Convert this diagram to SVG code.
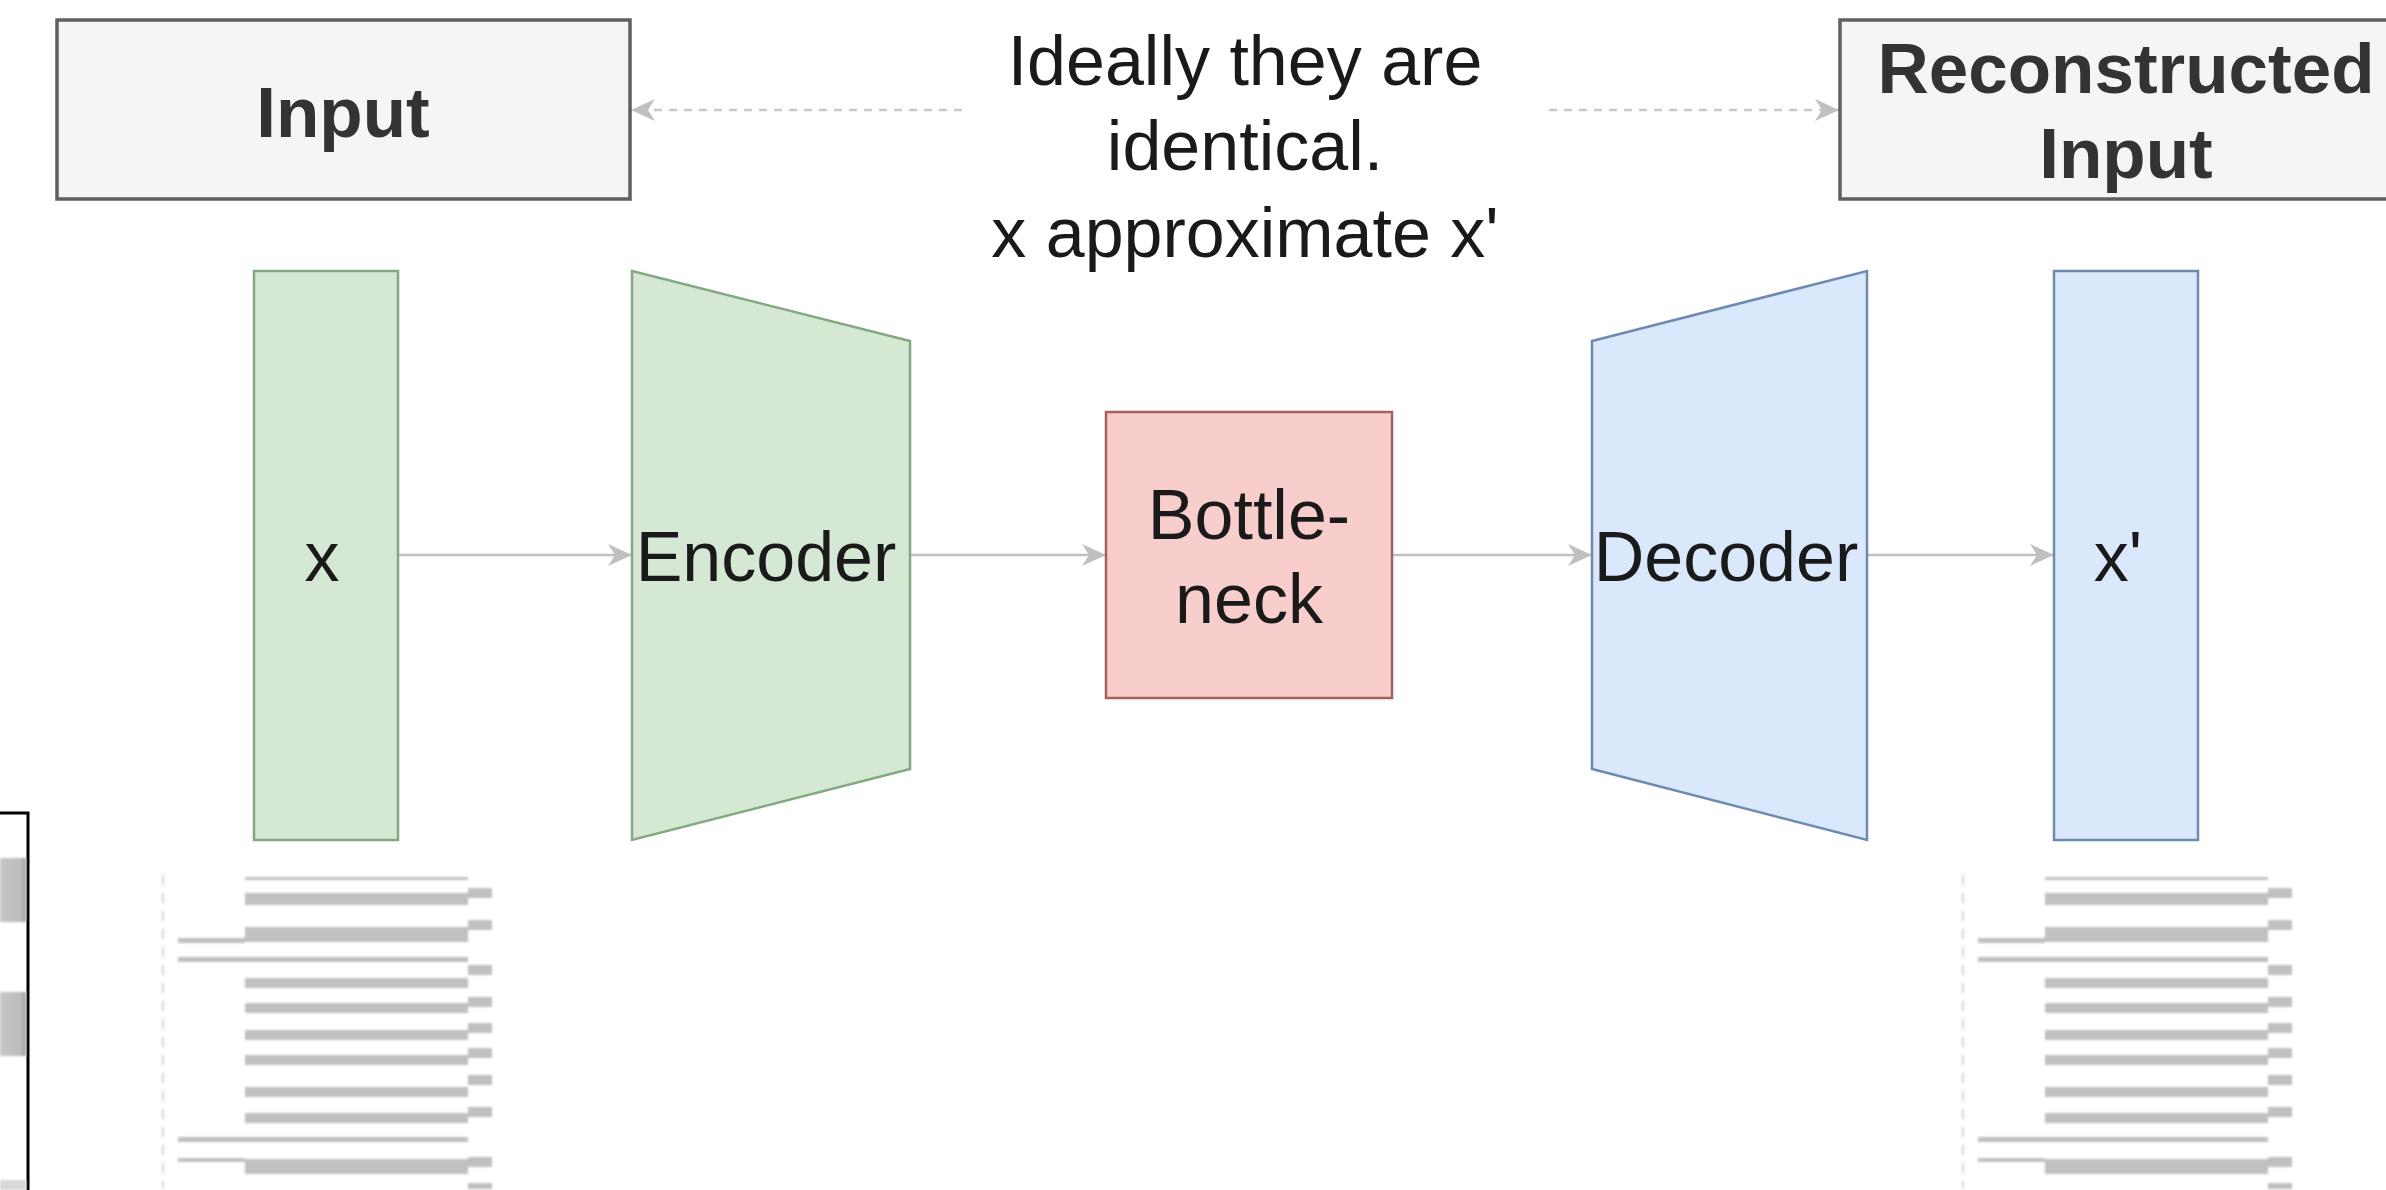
<svg xmlns="http://www.w3.org/2000/svg" width="2386" height="1190" viewBox="0 0 2386 1190">
<defs>
<style>
.lbl{font-family:"Liberation Sans",Arial,sans-serif;font-size:70px;fill:#1a1a1a;text-anchor:middle}
.bold{font-weight:bold;fill:#333333;font-size:71px}
.title{fill:#f5f5f5;stroke:#5f5f5f;stroke-width:3.5}
.green{fill:#d5e8d4;stroke:#84a982;stroke-width:2.5}
.blue{fill:#dae8fc;stroke:#7089b0;stroke-width:2.5}
.red{fill:#f8cecc;stroke:#a7605c;stroke-width:2.5}
.conn{stroke:#c0c0c0;stroke-width:2.5;fill:none;marker-end:url(#arr)}
.dash{stroke:#c8c8c8;stroke-width:2.5;fill:none;stroke-dasharray:8 7;marker-end:url(#arr)}
.bar{fill:#c0c0c0}
.vdash{stroke:#d4d4d4;stroke-width:2;stroke-dasharray:10 8}
</style>
<marker id="arr" markerUnits="userSpaceOnUse" markerWidth="24" markerHeight="22" viewBox="0 0 24 22" refX="24" refY="11" orient="auto">
<path d="M0,0 L24,11 L0,22 L7,11 Z" fill="#c0c0c0"/>
</marker>
<linearGradient id="blob" x1="0" y1="0" x2="1" y2="0">
<stop offset="0" stop-color="#c6c6c6"/>
<stop offset="0.8" stop-color="#bcbcbc"/>
<stop offset="1" stop-color="#9c9c9c"/>
</linearGradient>
<filter id="soft" x="-5%" y="-5%" width="110%" height="110%"><feGaussianBlur stdDeviation="1.2"/></filter>
<g id="doc">
<line class="vdash" x1="163" y1="875" x2="163" y2="1188"/>
<g class="bar">
<rect x="245" y="877" width="223" height="3"/>
<rect x="245" y="893" width="223" height="12"/>
<rect x="245" y="927" width="223" height="15"/>
<rect x="245" y="978" width="223" height="10"/>
<rect x="245" y="1003" width="223" height="10"/>
<rect x="245" y="1030" width="223" height="10"/>
<rect x="245" y="1055" width="223" height="10"/>
<rect x="245" y="1087" width="223" height="10"/>
<rect x="245" y="1113" width="223" height="10"/>
<rect x="245" y="1159" width="223" height="15"/>
<rect x="178" y="957" width="290" height="5"/>
<rect x="178" y="1137" width="290" height="5"/>
<rect x="178" y="938" width="67" height="5"/>
<rect x="178" y="1158" width="67" height="4"/>
<rect x="468" y="888" width="24" height="10"/>
<rect x="468" y="920" width="24" height="10"/>
<rect x="468" y="965" width="24" height="10"/>
<rect x="468" y="997" width="24" height="10"/>
<rect x="468" y="1023" width="24" height="10"/>
<rect x="468" y="1048" width="24" height="10"/>
<rect x="468" y="1075" width="24" height="10"/>
<rect x="468" y="1107" width="24" height="10"/>
<rect x="468" y="1157" width="24" height="10"/>
<rect x="468" y="1183" width="24" height="6"/>
</g>
</g>
</defs>
<rect x="0" y="0" width="2386" height="1190" fill="#ffffff"/>

<g id="connectors">
<line class="dash" x1="962" y1="110" x2="631" y2="110"/>
<line class="dash" x1="1549" y1="110" x2="1839" y2="110"/>
<line class="conn" x1="398" y1="555" x2="632" y2="555"/>
<line class="conn" x1="910" y1="555" x2="1106" y2="555"/>
<line class="conn" x1="1392" y1="555" x2="1592" y2="555"/>
<line class="conn" x1="1867" y1="555" x2="2054" y2="555"/>
</g>

<g id="input-title">
<rect class="title" x="57" y="20" width="573" height="179"/>
<text class="lbl bold" x="343" y="137">Input</text>
</g>

<g id="note">
<text class="lbl" x="1245" y="85">Ideally they are</text>
<text class="lbl" x="1245" y="170">identical.</text>
<text class="lbl" x="1245" y="257">x approximate x'</text>
</g>

<g id="recon-title">
<rect class="title" x="1840" y="20" width="573" height="179"/>
<text class="lbl bold" x="2126" y="93">Reconstructed</text>
<text class="lbl bold" x="2126" y="178">Input</text>
</g>

<g id="x-node">
<rect class="green" x="254" y="271" width="144" height="569"/>
<text class="lbl" x="322" y="581">x</text>
</g>

<g id="encoder">
<polygon class="green" points="632,271 910,341 910,769 632,840"/>
<text class="lbl" x="766" y="581">Encoder</text>
</g>

<g id="bottleneck">
<rect class="red" x="1106" y="412" width="286" height="286"/>
<text class="lbl" x="1249" y="539">Bottle-</text>
<text class="lbl" x="1249" y="623">neck</text>
</g>

<g id="decoder">
<polygon class="blue" points="1592,341 1867,271 1867,840 1592,769"/>
<text class="lbl" x="1726" y="581">Decoder</text>
</g>

<g id="xprime-node">
<rect class="blue" x="2054" y="271" width="144" height="569"/>
<text class="lbl" x="2118" y="581">x'</text>
</g>

<g id="input-sample" filter="url(#soft)">
<use href="#doc"/>
</g>

<g id="output-sample" filter="url(#soft)">
<use href="#doc" transform="translate(1800,0)"/>
</g>

<g id="side-panel">
<rect x="-5" y="813" width="33" height="390" fill="#ffffff" stroke="#000000" stroke-width="3"/>
<g filter="url(#soft)">
<rect x="0" y="858" width="26" height="64" fill="url(#blob)"/>
<rect x="0" y="992" width="26" height="64" fill="url(#blob)"/>
<rect x="0" y="1180" width="26" height="10" fill="#d8d8d8"/>
</g>
</g>
</svg>
